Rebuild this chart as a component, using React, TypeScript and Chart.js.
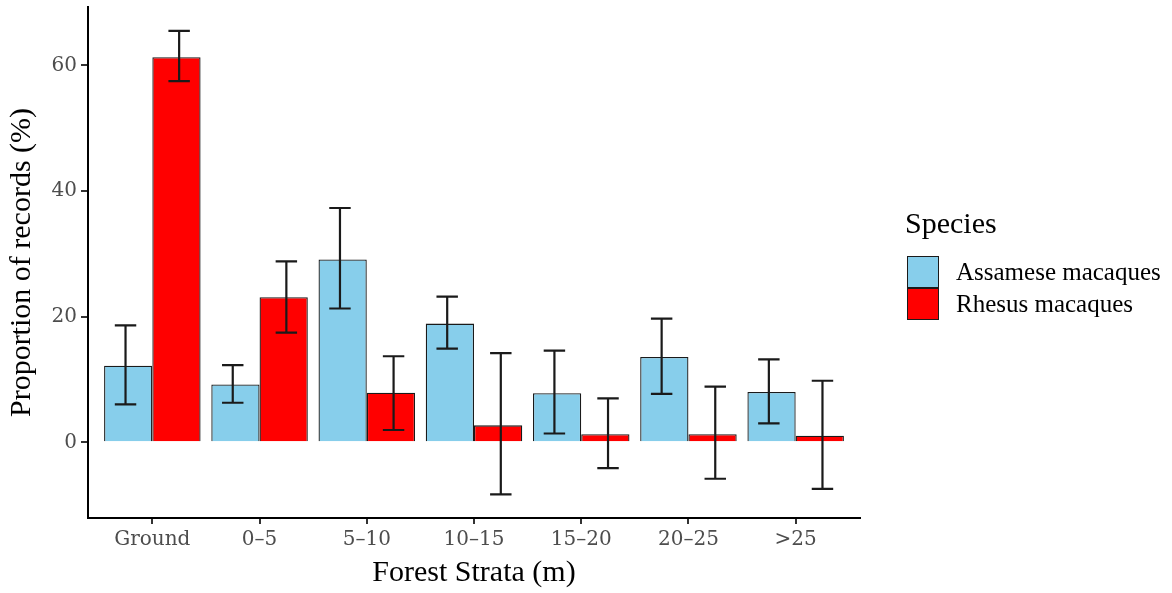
import React, { useEffect, useRef } from 'react';
import { Chart, registerables } from 'chart.js';

Chart.register(...registerables);

// ---- data ----
const categories = ['Ground', '0–5', '5–10', '10–15', '15–20', '20–25', '>25'];
const seriesNames = ['Assamese macaques', 'Rhesus macaques'];
const assamese = [12.2, 9.2, 29.1, 18.9, 7.8, 13.6, 8.0];
const rhesus = [61.3, 23.1, 7.9, 2.7, 1.3, 1.3, 1.05];
const assameseLow = [6.05, 6.3, 21.3, 14.9, 1.4, 7.7, 3.0];
const assameseHigh = [18.6, 12.3, 37.3, 23.2, 14.6, 19.7, 13.2];
const rhesusLow = [57.5, 17.45, 1.96, -8.3, -4.1, -5.8, -7.4];
const rhesusHigh = [65.5, 28.8, 13.7, 14.2, 7.0, 8.85, 9.8];
const yTicks = [0, 20, 40, 60];

// ---- style ----
const colors = ['#87CEEB', '#FF0000'];
const errorDodge = 0.25; // category units
const capHalf = 0.1; // category units

const errorBarPlugin = {
  id: 'errorBars',
  afterDatasetsDraw(chart: any) {
    const xs = chart.scales.x;
    const ys = chart.scales.y;
    const ctx = chart.ctx;
    const series = [
      { lo: assameseLow, hi: assameseHigh, off: -errorDodge },
      { lo: rhesusLow, hi: rhesusHigh, off: errorDodge },
    ];
    ctx.save();
    ctx.strokeStyle = '#1a1a1a';
    ctx.lineWidth = 2.2;
    ctx.lineCap = 'butt';
    series.forEach((s) => {
      categories.forEach((_, i) => {
        const cx = xs.getPixelForValue(i + s.off);
        const l = xs.getPixelForValue(i + s.off - capHalf);
        const r = xs.getPixelForValue(i + s.off + capHalf);
        const yl = ys.getPixelForValue(s.lo[i]);
        const yh = ys.getPixelForValue(s.hi[i]);
        ctx.beginPath();
        ctx.moveTo(cx, yl);
        ctx.lineTo(cx, yh);
        ctx.moveTo(l, yl);
        ctx.lineTo(r, yl);
        ctx.moveTo(l, yh);
        ctx.lineTo(r, yh);
        ctx.stroke();
      });
    });
    ctx.restore();
  },
};

export default function App() {
  const ref = useRef<HTMLCanvasElement | null>(null);

  useEffect(() => {
    if (!ref.current) return;
    const tickFont = { family: 'DejaVu Serif', size: 20, lineHeight: 1.2 };
    const titleFont = { family: 'Liberation Serif', size: 30, lineHeight: 1 };
    const chart = new Chart(ref.current, {
      type: 'bar',
      data: {
        datasets: [
          {
            label: seriesNames[0],
            data: categories.map((_, i) => ({ x: i, y: assamese[i] })),
            backgroundColor: colors[0],
            borderColor: '#1a1a1a',
            borderWidth: 1.3,
          },
          {
            label: seriesNames[1],
            data: categories.map((_, i) => ({ x: i, y: rhesus[i] })),
            backgroundColor: colors[1],
            borderColor: '#1a1a1a',
            borderWidth: 1.3,
          },
        ],
      },
      options: {
        responsive: false,
        animation: false,
        datasets: { bar: { categoryPercentage: 0.9, barPercentage: 1.0 } },
        layout: { padding: { top: 7, right: 312, left: 0, bottom: 0 } },
        plugins: { legend: { display: false }, tooltip: { enabled: false } },
        scales: {
          x: {
            type: 'linear',
            min: -0.6,
            max: 6.6,
            offset: false,
            afterBuildTicks: (scale: any) => {
              scale.ticks = categories.map((_, i) => ({ value: i }));
            },
            afterFit: (scale: any) => {
              scale.height = 75;
              scale.paddingLeft = 0;
              scale.paddingRight = 0;
            },
            grid: { drawOnChartArea: false, drawTicks: true, tickLength: 6, color: '#333', lineWidth: 2, offset: false },
            border: { display: true, color: '#000', width: 2 },
            ticks: {
              autoSkip: false,
              maxRotation: 0,
              padding: 4,
              color: '#4d4d4d',
              font: tickFont,
              callback: (v: any) => categories[v] ?? '',
            },
            title: {
              display: true,
              text: 'Forest Strata (m)',
              color: '#000',
              font: titleFont,
              padding: { top: 0, bottom: 5 },
            },
          },
          y: {
            type: 'linear',
            min: -12.05,
            max: 69.3,
            afterBuildTicks: (scale: any) => {
              scale.ticks = yTicks.map((v) => ({ value: v }));
            },
            afterFit: (scale: any) => {
              scale.width = 88;
              scale.paddingTop = 0;
              scale.paddingBottom = 0;
            },
            grid: { drawOnChartArea: false, drawTicks: true, tickLength: 7, color: '#333', lineWidth: 2 },
            border: { display: true, color: '#000', width: 2 },
            ticks: {
              padding: 4,
              color: '#4d4d4d',
              font: tickFont,
              callback: (v: any) => String(v),
            },
            title: {
              display: true,
              text: 'Proportion of records (%)',
              color: '#000',
              font: titleFont,
              padding: { top: 7, bottom: 0 },
            },
          },
        },
      } as any,
      plugins: [errorBarPlugin],
    });
    return () => chart.destroy();
  }, []);

  const legendText: React.CSSProperties = {
    position: 'absolute',
    left: 956,
    height: 32,
    lineHeight: '32px',
    fontFamily: 'Liberation Serif',
    fontSize: 25,
    color: '#000',
    whiteSpace: 'nowrap',
  };
  const box = (top: number, color: string): React.CSSProperties => ({
    position: 'absolute',
    left: 907,
    top,
    width: 32,
    height: 32,
    boxSizing: 'border-box',
    border: '1px solid #1a1a1a',
    background: color,
  });

  return (
    <div style={{ position: 'absolute', left: 0, top: 0, width: 1172, height: 593, background: '#fff' }}>
      <canvas ref={ref} width={1172} height={593} style={{ display: 'block' }} />
      <div
        style={{
          position: 'absolute',
          left: 905,
          top: 208,
          lineHeight: '30px',
          fontFamily: 'Liberation Serif',
          fontSize: 30,
          color: '#000',
          whiteSpace: 'nowrap',
        }}
      >
        Species
      </div>
      <div style={box(256, colors[0])} />
      <div style={box(288, colors[1])} />
      <div style={{ ...legendText, top: 256 }}>{seriesNames[0]}</div>
      <div style={{ ...legendText, top: 288 }}>{seriesNames[1]}</div>
    </div>
  );
}
